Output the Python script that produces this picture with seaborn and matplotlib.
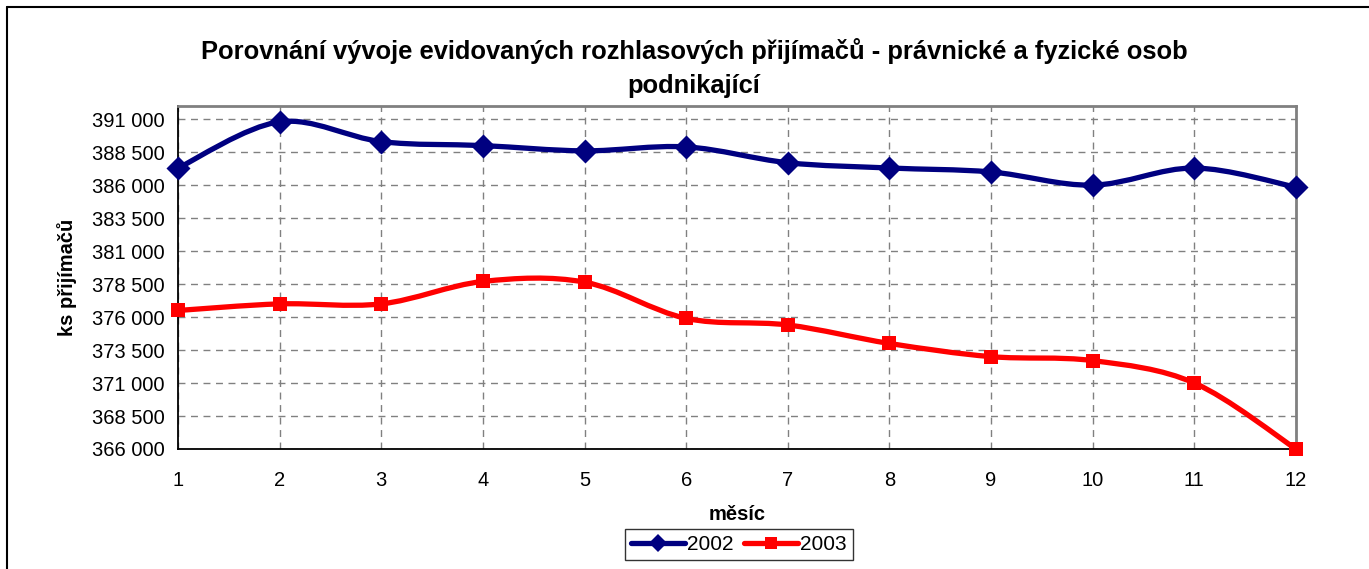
import matplotlib
matplotlib.use('Agg')
import matplotlib.pyplot as plt
from matplotlib.path import Path
from matplotlib.patches import PathPatch
from matplotlib.lines import Line2D
import seaborn as sns
import pandas as pd
import numpy as np

# data
months = list(range(1, 13))
recv_2002 = [387300, 390800, 389300, 389000, 388600, 388900, 387700, 387300, 387000, 386000, 387300, 385850]
recv_2003 = [376500, 377000, 377000, 378700, 378650, 375900, 375400, 374000, 373000, 372700, 371000, 366000]
series_names = ['2002', '2003']
series_colors = {'2002': '#000080', '2003': '#ff0000'}
series_markers = {'2002': 'D', '2003': 's'}
y_ticks = list(range(366000, 391001, 2500))

title_text = "Porovnání vývoje evidovaných rozhlasových přijímačů - právnické a fyzické osob\npodnikající"
x_label = "měsíc"
y_label = "ks přijímačů"

df = pd.DataFrame({
    'month': months * 2,
    'value': recv_2002 + recv_2003,
    'year': ['2002'] * 12 + ['2003'] * 12,
})

sns.set_style('white')
plt.rcParams['font.family'] = ['Liberation Sans', 'DejaVu Sans']
plt.rcParams['text.color'] = 'black'
plt.rcParams['axes.labelcolor'] = 'black'

W, H = 1369, 569
fig = plt.figure(figsize=(W / 100, H / 100), dpi=100)
ax = fig.add_axes([178 / W, 1 - 449 / H, (1296 - 178) / W, (449 - 106) / H])


def smooth_line(ax, xs, ys, color, lw):
    """Excel-like smoothed line: cubic bezier segments through the points."""
    pts = np.column_stack([xs, ys]).astype(float)
    n = len(pts)
    verts = [pts[0]]
    codes = [Path.MOVETO]
    for i in range(n - 1):
        p0 = pts[i - 1] if i > 0 else pts[i]
        p1, p2 = pts[i], pts[i + 1]
        p3 = pts[i + 2] if i + 2 < n else pts[i + 1]
        verts += [p1 + (p2 - p0) / 6, p2 - (p3 - p1) / 6, p2]
        codes += [Path.CURVE4] * 3
    ax.add_patch(PathPatch(Path(verts, codes), facecolor='none', edgecolor=color,
                           lw=lw, capstyle='round', joinstyle='round', zorder=3))


for name in series_names:
    sub = df[df['year'] == name]
    smooth_line(ax, sub['month'].values, sub['value'].values, series_colors[name], 3.8)
    sns.scatterplot(data=sub, x='month', y='value', color=series_colors[name],
                    marker=series_markers[name], s=150 if name == '2002' else 95,
                    linewidth=0, legend=False, ax=ax, zorder=4, clip_on=False)

ax.set_xlim(1, 12)
ax.set_ylim(366000, 392000)
ax.set_xticks(months)
ax.set_yticks(y_ticks)
ax.set_yticklabels([f"{v:,}".replace(",", " ") for v in y_ticks])
ax.tick_params(axis='both', labelsize=14.5, colors='black', length=7, width=1)
ax.tick_params(axis='y', direction='inout', pad=6)
ax.tick_params(axis='x', direction='out', pad=9)

ax.grid(True, color='#808080', linestyle=(0, (5, 4)), linewidth=1)
ax.set_axisbelow(True)
for side in ['left', 'bottom']:
    ax.spines[side].set_color('black')
    ax.spines[side].set_linewidth(1.3)
for side in ['top', 'right']:
    ax.spines[side].set_color('#808080')
    ax.spines[side].set_linewidth(2)

ax.set_xlabel(x_label, fontsize=14.5, fontweight='bold', color='black')
ax.set_ylabel(y_label, fontsize=14.5, fontweight='bold', color='black')
ax.xaxis.set_label_coords(0.5, -(505 - 449) / 343)
ax.yaxis.set_label_coords(-(178 - 77) / 1118, 0.5)

fig.text(694 / W, 1 - 68 / H, title_text, ha='center', va='center', color='black',
         fontsize=18.4, fontweight='bold', linespacing=1.5)

handles = [Line2D([], [], color=series_colors[n], lw=3.8, marker=series_markers[n],
                  markersize=9, markeredgewidth=0) for n in series_names]
leg = fig.legend(handles, series_names, loc='center', bbox_to_anchor=(739 / W, 1 - 544.5 / H),
                 ncol=2, fontsize=15, frameon=True, fancybox=False, handlelength=2.6,
                 handletextpad=0.1, columnspacing=0.5, borderpad=0.3, borderaxespad=0)
leg.get_frame().set_edgecolor('black')
leg.get_frame().set_linewidth(1)

# outer chart frame
fig.add_artist(Line2D([7 / W, 1], [1 - 7 / H, 1 - 7 / H], color='black', lw=1.5, transform=fig.transFigure))
fig.add_artist(Line2D([7 / W, 7 / W], [0, 1 - 7 / H], color='black', lw=1.5, transform=fig.transFigure))

fig.savefig('out.png', dpi=100)
